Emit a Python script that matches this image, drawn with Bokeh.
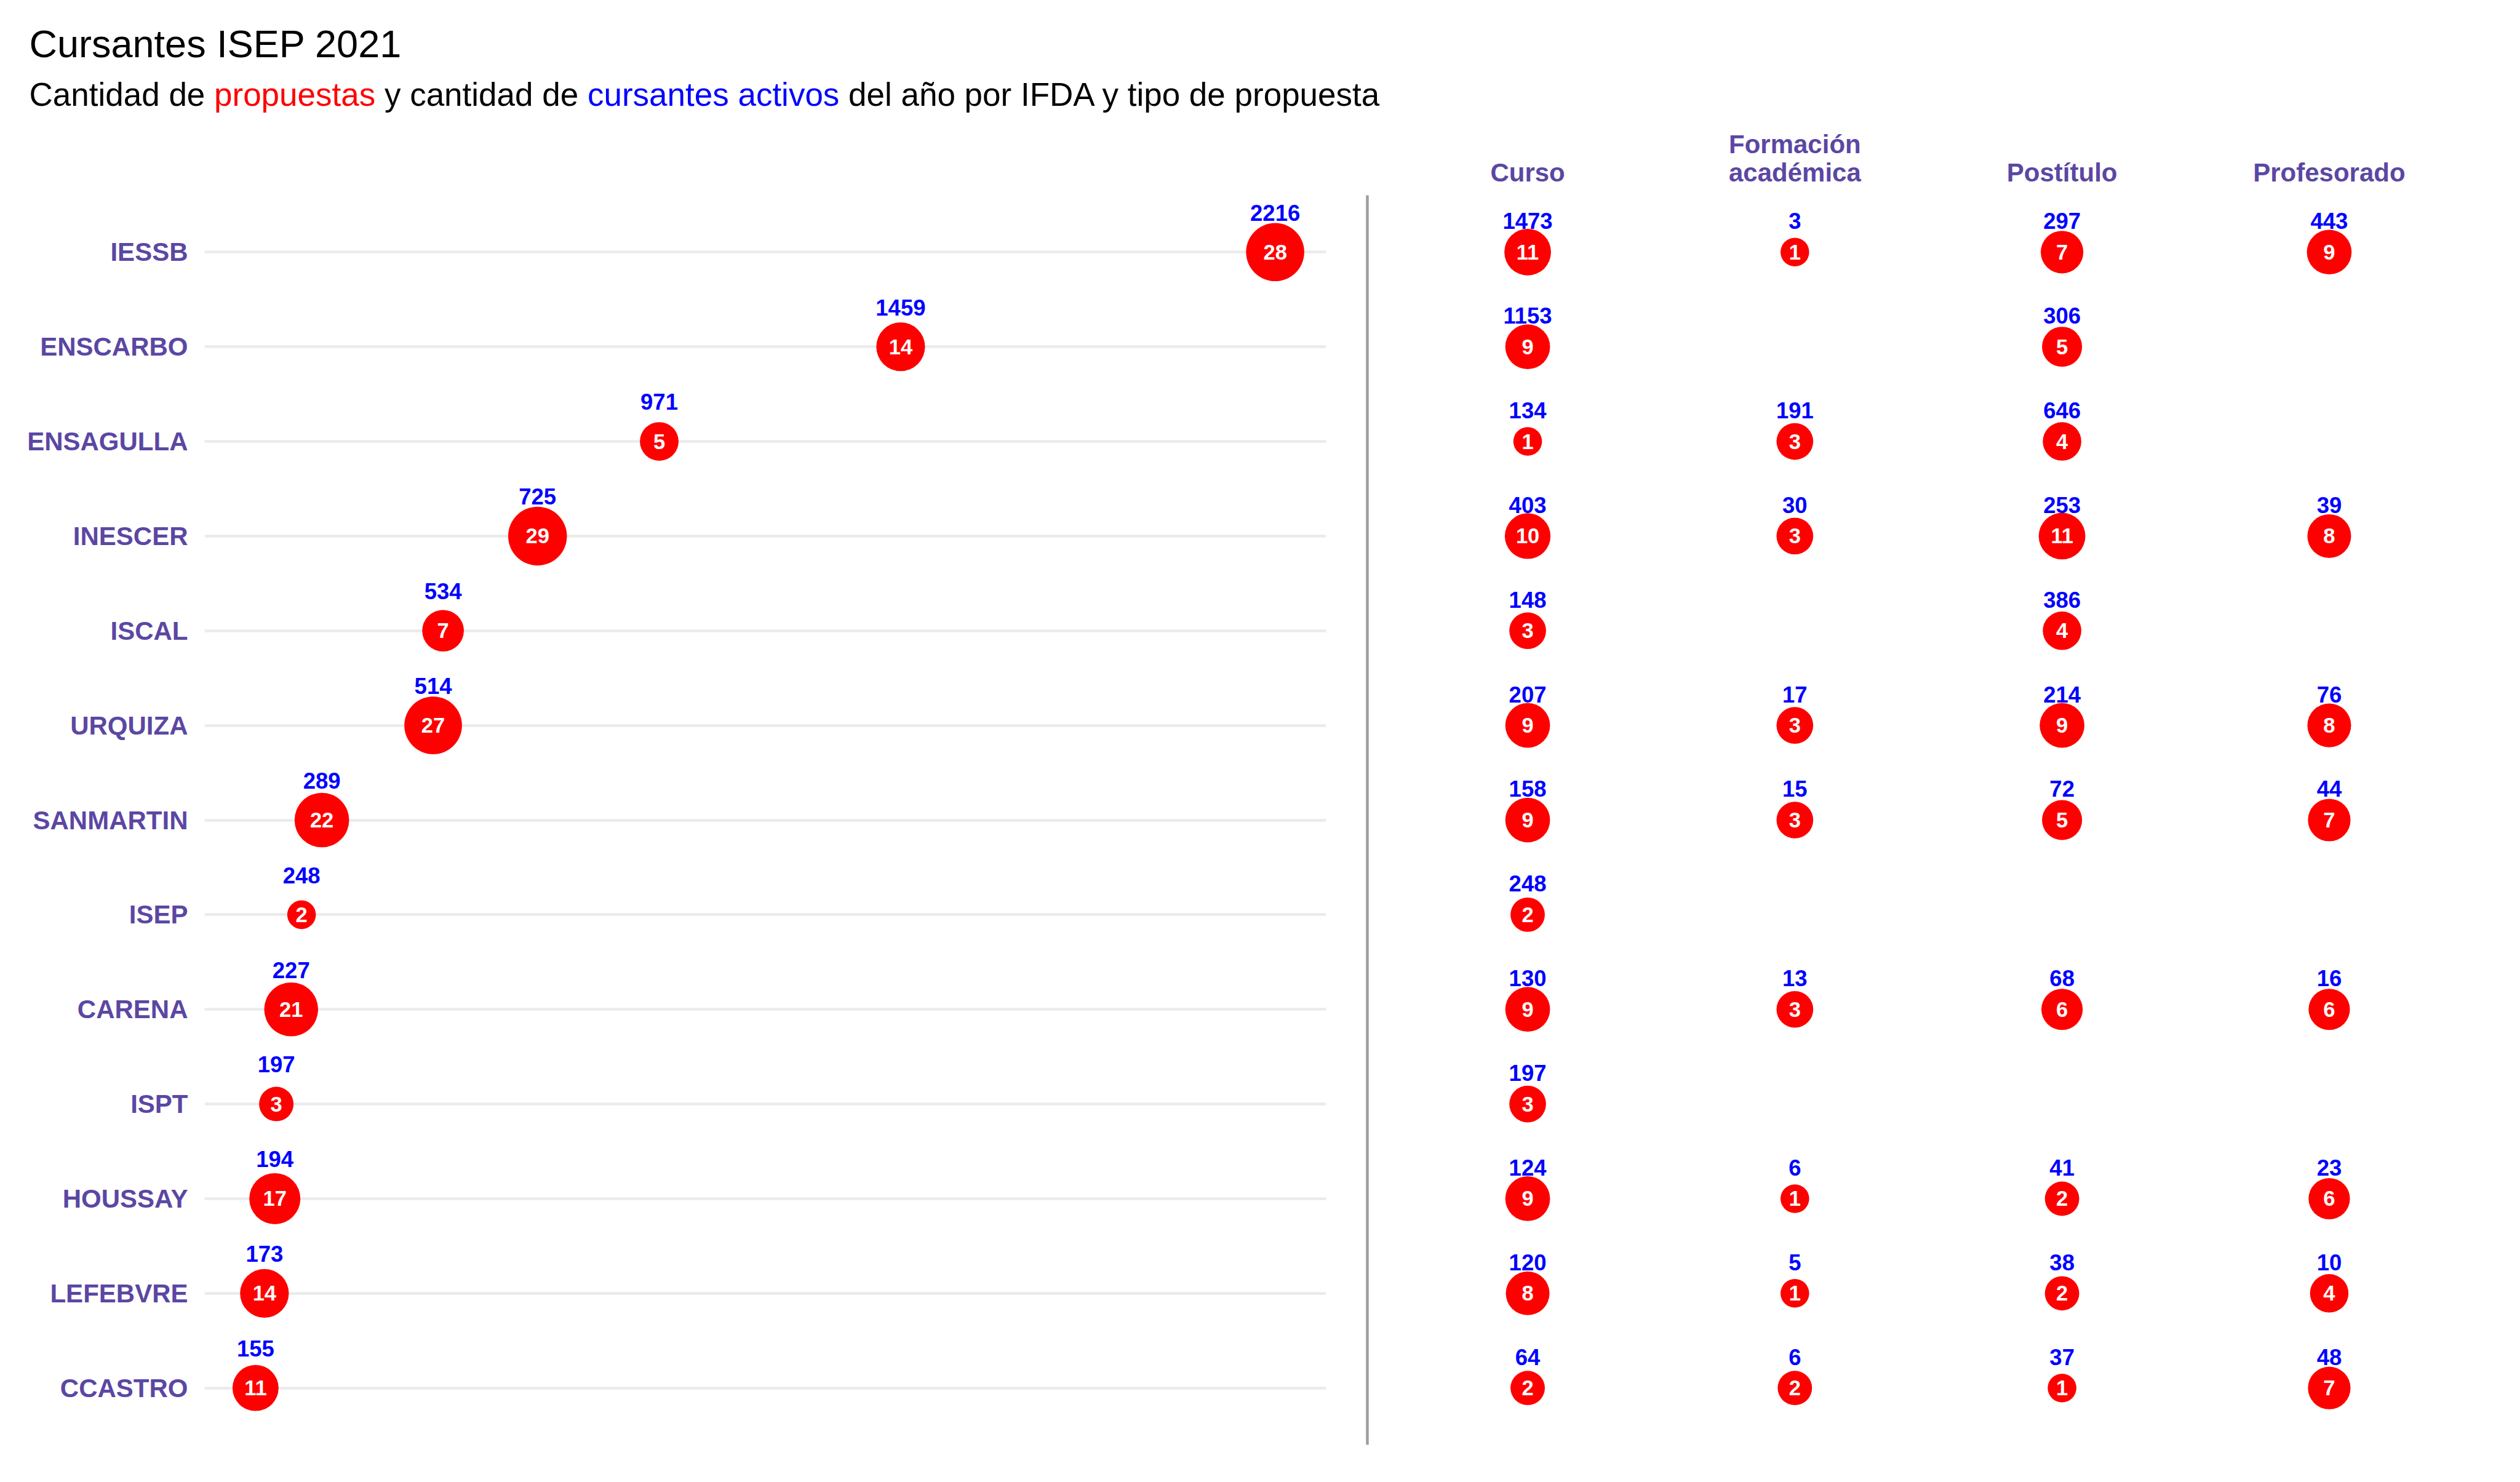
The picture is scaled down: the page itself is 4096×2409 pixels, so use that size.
import math
from bokeh.plotting import figure
from bokeh.models import ColumnDataSource, Range1d, FactorRange, FixedTicker, Spacer
from bokeh.layouts import column, row
from bokeh.transform import dodge
from bokeh.core.properties import value
from bokeh.embed import file_html
from bokeh.resources import INLINE

# ---------------- data ----------------
instituciones = ["IESSB", "ENSCARBO", "ENSAGULLA", "INESCER", "ISCAL", "URQUIZA",
                 "SANMARTIN", "ISEP", "CARENA", "ISPT", "HOUSSAY", "LEFEBVRE", "CCASTRO"]
total_cursantes = [2216, 1459, 971, 725, 534, 514, 289, 248, 227, 197, 194, 173, 155]
total_propuestas = [28, 14, 5, 29, 7, 27, 22, 2, 21, 3, 17, 14, 11]

tipos = ["Curso", "Formación académica", "Postítulo", "Profesorado"]
tipo_labels = ["Curso", "Formación\nacadémica", "Postítulo", "Profesorado"]

curso_cursantes = [1473, 1153, 134, 403, 148, 207, 158, 248, 130, 197, 124, 120, 64]
curso_propuestas = [11, 9, 1, 10, 3, 9, 9, 2, 9, 3, 9, 8, 2]
formacion_cursantes = [3, None, 191, 30, None, 17, 15, None, 13, None, 6, 5, 6]
formacion_propuestas = [1, None, 3, 3, None, 3, 3, None, 3, None, 1, 1, 2]
postitulo_cursantes = [297, 306, 646, 253, 386, 214, 72, None, 68, None, 41, 38, 37]
postitulo_propuestas = [7, 5, 4, 11, 4, 9, 5, None, 6, None, 2, 2, 1]
profesorado_cursantes = [443, None, None, 39, None, 76, 44, None, 16, None, 23, 10, 48]
profesorado_propuestas = [9, None, None, 8, None, 8, 7, None, 6, None, 6, 4, 7]

titulo = "Cursantes ISEP 2021"
subtitulo_partes = ["Cantidad de", "propuestas", "y cantidad de", "cursantes activos",
                    "del año por IFDA y tipo de propuesta"]

# ---------------- style ----------------
FONT = "Liberation Sans"
PURPLE = "#5B47A3"
RED = "#FF0000"
BLUE = "#0000FF"
GRID = "#EBEBEB"
D_MIN, D_MAX = 46.6, 95.5


def area_size(v, lo, hi):
    return D_MIN + (D_MAX - D_MIN) * math.sqrt((v - lo) / (hi - lo))


# ---------------- sources ----------------
lo_l, hi_l = min(total_propuestas), max(total_propuestas)
left_src = ColumnDataSource(dict(
    inst=instituciones,
    cursantes=total_cursantes,
    cur_lab=[str(v) for v in total_cursantes],
    prop_lab=[str(v) for v in total_propuestas],
    size=[area_size(v, lo_l, hi_l) for v in total_propuestas],
))

series = [
    (curso_cursantes, curso_propuestas),
    (formacion_cursantes, formacion_propuestas),
    (postitulo_cursantes, postitulo_propuestas),
    (profesorado_cursantes, profesorado_propuestas),
]
all_right = [p for _, ps in series for p in ps if p is not None]
lo_r, hi_r = min(all_right), hi_l
r = dict(inst=[], tipo=[], cur_lab=[], prop_lab=[], size=[])
for tipo, (cs, ps) in zip(tipos, series):
    for inst, c, pr in zip(instituciones, cs, ps):
        if c is None:
            continue
        r["inst"].append(inst)
        r["tipo"].append(tipo)
        r["cur_lab"].append(str(c))
        r["prop_lab"].append(str(pr))
        r["size"].append(area_size(pr, lo_r, hi_r))
right_src = ColumnDataSource(r)

# ---------------- ranges ----------------
span = max(total_cursantes) - min(total_cursantes)
x_left = Range1d(min(total_cursantes) - 0.05 * span, max(total_cursantes) + 0.05 * span)
y_rng = FactorRange(factors=list(reversed(instituciones)),
                    range_padding=0.2 / len(instituciones), range_padding_units="percent")
x_right = FactorRange(factors=tipos, range_padding=0.2 / len(tipos), range_padding_units="percent")

H_TITLE = 190
H_HDR = 127
H_MAIN = 2083
BOTTOM = 52
W_LEFT = 2188
W_RIGHT = 1908


def blank(p):
    p.outline_line_color = None
    p.title.visible = False
    p.grid.visible = False


# ---------------- title figure ----------------
pt = figure(width=4096, height=H_TITLE, x_range=Range1d(0, 4096), y_range=Range1d(0, H_TITLE),
            output_backend="svg", toolbar_location=None, min_border=0,
            x_axis_location=None, y_axis_location=None)
blank(pt)
pt.text(x=[47], y=[120], text=[titulo], text_font=value(FONT),
        text_font_size=value("63px"), text_color="black", text_baseline="middle",
        text_align="left")
sub_colors = ["black", RED, "black", BLUE, "black"]
sub_x = [47, 347.5, 624.4, 954.4, 1378.5]
pt.text(x=sub_x, y=[37.5] * 5, text=subtitulo_partes, text_color=sub_colors,
        text_font=value(FONT), text_font_size=value("53px"), text_baseline="middle",
        text_align="left")

# ---------------- header figure (column titles of right panel) ----------------
ph = figure(width=W_RIGHT, height=H_HDR, x_range=x_right, y_range=Range1d(0, H_HDR),
            output_backend="svg", toolbar_location=None,
            min_border_left=34, min_border_right=50, min_border_top=0, min_border_bottom=0,
            x_axis_location=None, y_axis_location=None)
blank(ph)
hx, hy, ht = [], [], []
for tipo, lab in zip(tipos, tipo_labels):
    lines = lab.split("\n")
    n = len(lines)
    for i, line in enumerate(lines):
        hx.append(tipo)
        hy.append(37 + (n - 1 - i) * 46)
        ht.append(line)
ph.text(x=hx, y=hy, text=ht, text_color=PURPLE, text_font=value(FONT),
        text_font_style="bold", text_font_size=value("42px"),
        text_align="center", text_baseline="middle")

# ---------------- left panel ----------------
p1 = figure(width=W_LEFT, height=H_MAIN, x_range=x_left, y_range=y_rng,
            output_backend="svg", toolbar_location=None, x_axis_location=None,
            min_border_left=332, min_border_right=33, min_border_top=0,
            min_border_bottom=BOTTOM)
p1.outline_line_color = None
p1.title.visible = False
p1.xgrid.visible = False
p1.ygrid.grid_line_color = GRID
p1.ygrid.grid_line_width = 4.5
p1.yaxis.axis_line_color = None
p1.yaxis.major_tick_line_color = None
p1.yaxis.minor_tick_line_color = None
p1.yaxis.major_tick_out = 0
p1.yaxis.major_tick_in = 0
p1.yaxis.major_label_standoff = 27
p1.yaxis.major_label_text_font = FONT
p1.yaxis.major_label_text_font_style = "bold"
p1.yaxis.major_label_text_font_size = "42px"
p1.yaxis.major_label_text_color = PURPLE

p1.scatter(x="cursantes", y="inst", size="size", source=left_src,
           fill_color=RED, line_color=None, marker="circle")
p1.text(x="cursantes", y="inst", text="prop_lab", source=left_src, text_color="white",
        text_font=value(FONT), text_font_style="bold", text_font_size=value("34.5px"),
        text_align="center", text_baseline="middle")
p1.text(x="cursantes", y=dodge("inst", 0.417, range=y_rng), text="cur_lab", source=left_src,
        text_color=BLUE, text_font=value(FONT), text_font_style="bold",
        text_font_size=value("36.5px"), text_align="center", text_baseline="middle")

# ---------------- right panel ----------------
p2 = figure(width=W_RIGHT, height=H_MAIN, x_range=x_right, y_range=y_rng,
            output_backend="svg", toolbar_location=None, x_axis_location=None,
            min_border_left=34, min_border_right=50, min_border_top=0,
            min_border_bottom=BOTTOM)
p2.outline_line_color = None
p2.title.visible = False
p2.xgrid.visible = False
p2.ygrid.grid_line_color = GRID
p2.ygrid.grid_line_width = 4.5
p2.yaxis.ticker = FixedTicker(ticks=[])
p2.yaxis.axis_line_color = "#9E9E9E"
p2.yaxis.axis_line_width = 4.5
p2.yaxis.major_tick_line_color = None
p2.yaxis.minor_tick_line_color = None
p2.yaxis.major_tick_out = 0
p2.yaxis.major_tick_in = 0
p2.yaxis.major_label_standoff = 0

p2.scatter(x="tipo", y="inst", size="size", source=right_src,
           fill_color=RED, line_color=None, marker="circle")
p2.text(x="tipo", y="inst", text="prop_lab", source=right_src, text_color="white",
        text_font=value(FONT), text_font_style="bold", text_font_size=value("34.5px"),
        text_align="center", text_baseline="middle")
p2.text(x="tipo", y=dodge("inst", 0.329, range=y_rng), text="cur_lab", source=right_src,
        text_color=BLUE, text_font=value(FONT), text_font_style="bold",
        text_font_size=value("36.5px"), text_align="center", text_baseline="middle")

layout = column(pt, row(Spacer(width=W_LEFT, height=H_HDR), ph), row(p1, p2))
open("out.html", "w").write(file_html(layout, INLINE))
